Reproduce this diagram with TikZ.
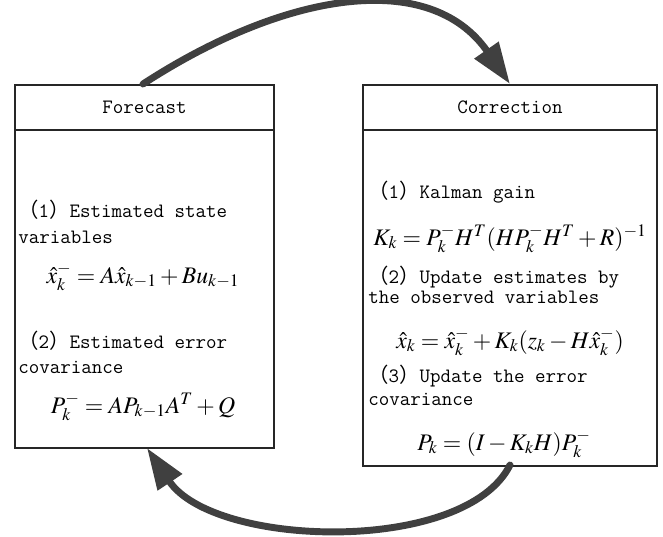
\documentclass[tikz,border=0pt]{standalone}
\usepackage{mathptmx}
\usepackage{fontspec}
\newfontfamily\cjkfnt{Noto Sans CJK SC}
\usetikzlibrary{arrows.meta}
\definecolor{arrowgray}{HTML}{404040}
\newcommand{\lp}{{\cjkfnt （}}
\newcommand{\rp}{{\cjkfnt ）}}
\begin{document}
\begin{tikzpicture}[x=0.75pt,y=-0.75pt,
  frame/.style={draw=black!85,line width=0.8pt},
  txt/.style={anchor=base west,inner sep=0pt,font=\ttfamily\fontsize{15.3}{18}\selectfont},
  title/.style={inner sep=0pt,font=\ttfamily\fontsize{15.3}{18}\selectfont},
  eq/.style={anchor=base,inner sep=0pt,font=\fontsize{17.8}{21}\selectfont},
  cycle/.style={draw=arrowgray,line width=5.2pt,line cap=round,
     -{Triangle[length=31pt,width=21pt]}}]
\useasboundingbox (0,0) rectangle (663,536);
% boxes
\draw[frame] (15,85) rectangle (274,130);
\draw[frame] (15,130) rectangle (274,448);
\draw[frame] (363,85) rectangle (657,130);
\draw[frame] (363,130) rectangle (657,466);
\node[title] (ft) at (144.5,107) {Forecast};
\node[title] (ct) at (510,107) {Correction};
% left text
\node[txt] (l1) at (18,217) {\lp 1\rp Estimated state};
\node[txt] (l2) at (18,243) {variables};
\node[eq] (le1) at (143,283) {$\hat{x}_k^- = A\hat{x}_{k-1} + Bu_{k-1}$};
\node[txt] (l3) at (18,348) {\lp 2\rp Estimated error};
\node[txt] (l4) at (18,373) {covariance};
\node[eq] (le2) at (143,413) {$P_k^- = AP_{k-1}A^T + Q$};
% right text
\node[txt] (r1) at (368,198) {\lp 1\rp Kalman gain};
\node[eq] (re1) at (510,245) {$K_k = P_k^- H^T (HP_k^- H^T + R)^{-1}$};
\node[txt] (r2) at (368,283) {\lp 2\rp Update estimates by};
\node[txt] (r3) at (368,303) {the observed variables};
\node[eq] (re2) at (510,348) {$\hat{x}_k = \hat{x}_k^- + K_k(z_k - H\hat{x}_k^-)$};
\node[txt] (r4) at (368,382) {\lp 3\rp Update the error};
\node[txt] (r5) at (368,405) {covariance};
\node[eq] (re3) at (504,450) {$P_k = (I - K_kH)P_k^-$};
% arrows
\coordinate (a1) at (143,84);
\coordinate (a2) at (510,84);
\coordinate (b1) at (510,465);
\coordinate (b2) at (147,448);
\draw[cycle] (a1) .. controls (286,-9) and (430,-31) .. (a2);
\draw[cycle] (b1) .. controls (465,555) and (214,548) .. (b2);
\end{tikzpicture}
\end{document}
